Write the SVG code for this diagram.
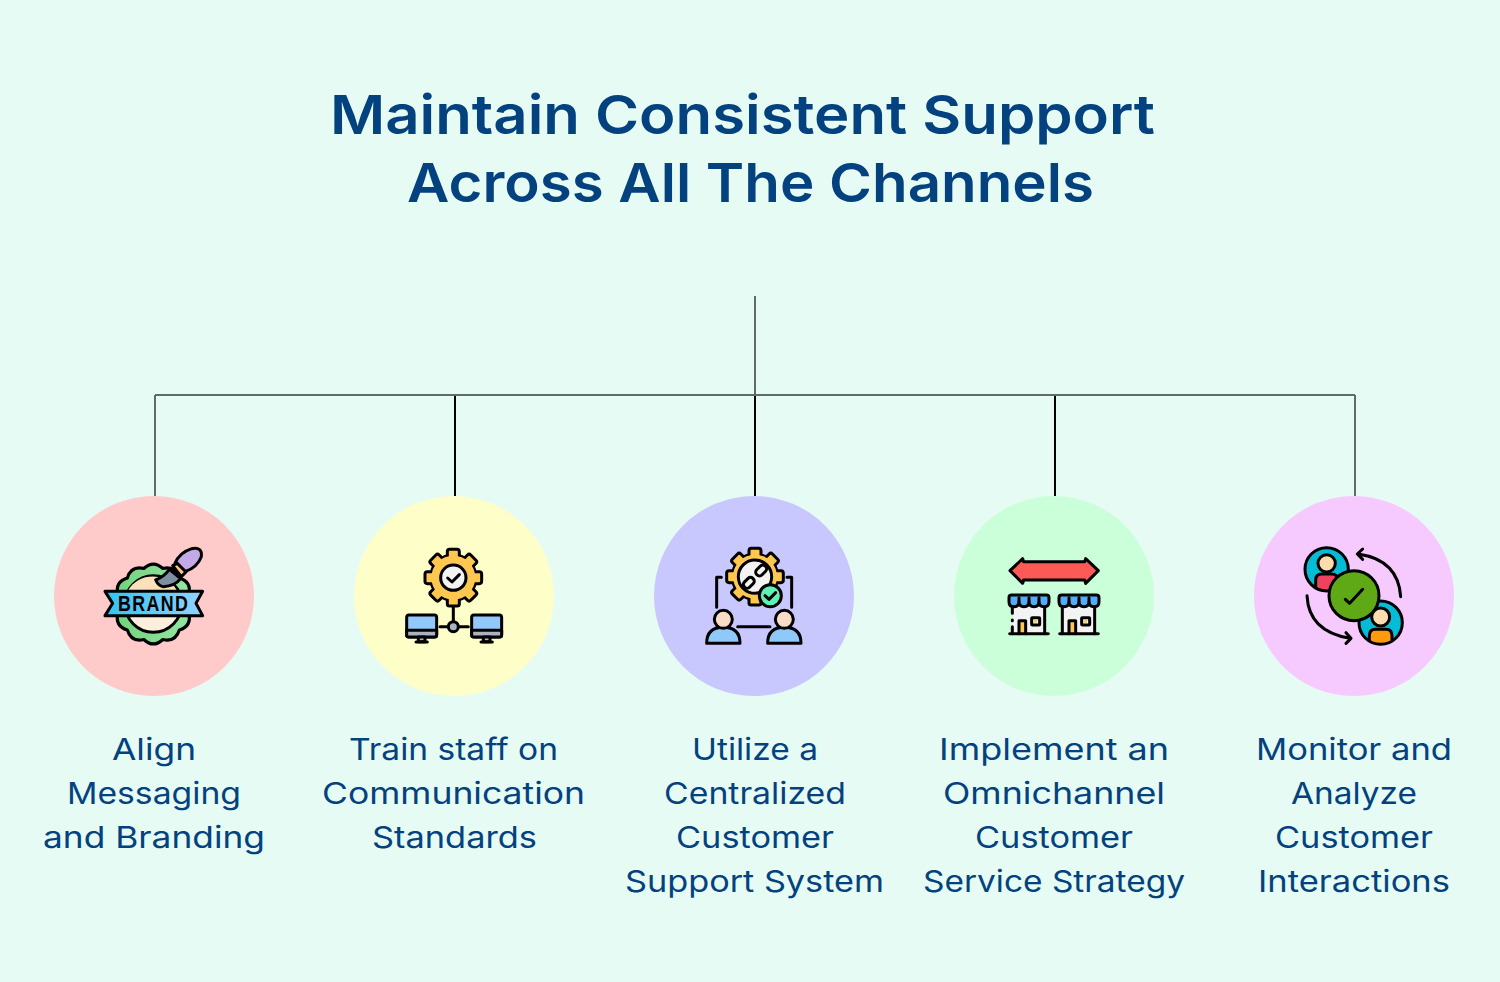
<svg xmlns="http://www.w3.org/2000/svg" xmlns:xlink="http://www.w3.org/1999/xlink" width="1500" height="982" viewBox="0 0 1500 982">
<style>
.t{font-family:"Inter","Noto Sans","Liberation Sans",sans-serif;fill:#04427f;text-anchor:middle}
.h{font-size:54px;font-weight:600}
.b{font-size:30px;font-weight:400}
.k{stroke:#000;stroke-width:9;stroke-linejoin:round;stroke-linecap:round}
.n{fill:none}
.g{stroke:#5f6b68;stroke-width:2;fill:none}
.d{stroke:#000;stroke-width:2;fill:none}
.i{font-family:"Liberation Sans",sans-serif;font-weight:700;font-size:64px;text-anchor:middle;fill:#000}
</style>
<defs>
<linearGradient id="rib" x1="0" x2="1"><stop offset="0" stop-color="#2fc4f5"/><stop offset="1" stop-color="#93d2fc"/></linearGradient>
<linearGradient id="grn" x1="0" x2="1"><stop offset="0" stop-color="#6fd37a"/><stop offset="1" stop-color="#96e6a4"/></linearGradient>
<clipPath id="c1"><circle cx="110" cy="118" r="65"/></clipPath>
<clipPath id="c2"><circle cx="272" cy="278" r="65"/></clipPath>
<rect id="tooth" x="-18" y="-85" width="36" height="32" rx="7" fill="#fdc750" class="k"/>
<g id="gear">
<circle r="68" fill="#fdc750" class="k"/>
<use xlink:href="#tooth"/><use xlink:href="#tooth" transform="rotate(45)"/><use xlink:href="#tooth" transform="rotate(90)"/><use xlink:href="#tooth" transform="rotate(135)"/><use xlink:href="#tooth" transform="rotate(180)"/><use xlink:href="#tooth" transform="rotate(225)"/><use xlink:href="#tooth" transform="rotate(270)"/><use xlink:href="#tooth" transform="rotate(315)"/>
<circle r="66" fill="#fdc750"/>
</g>
<g id="monitor">
<rect x="0" y="0" width="90" height="66" rx="7" fill="#93c9f9" class="k"/>
<path d="M0,46H90V59Q90,66 83,66H7Q0,66 0,59Z" fill="#a9b4c0" class="k"/>
<path d="M35,66H55V80H35Z" fill="#a9b4c0" class="k"/>
<path d="M28,81H62" class="k n"/>
</g>
<g id="person">
<path d="M-50,50Q-50,2 0,2Q50,2 50,50Z" fill="#8ec9f9" class="k"/>
<circle cy="-22" r="27" fill="#f9dcc8" class="k"/>
</g>
<g id="store">
<path d="M10,35H107V116H10Z" fill="#f3f3f3"/>
<path d="M107,35V116" class="k n"/>
<path d="M0,8Q0,0 8,0H112Q120,0 120,8V20Q120,35 105,35Q90,35 90,22Q90,35 75,35Q60,35 60,22Q60,35 45,35Q30,35 30,22Q30,35 15,35Q0,35 0,20Z" fill="#52acf9" class="k"/>
<path d="M30,8V22M60,8V22M90,8V22" class="k n"/>
<path d="M30,116V77H50V116" fill="#fdc750" class="k"/>
<rect x="68" y="68" width="24" height="22" rx="2" fill="#f3f3f3" class="k"/>
<rect x="76" y="75" width="8" height="8" fill="#fdc750"/>
<path d="M2,116H118" class="k n"/>
</g>
</defs>

<rect width="1500" height="982" fill="#e6fbf3"/>
<g id="title">
<text class="t h" x="742.500" y="134" textLength="825" lengthAdjust="spacingAndGlyphs">Maintain Consistent Support</text>
<text class="t h" x="750.500" y="202" textLength="687" lengthAdjust="spacingAndGlyphs">Across All The Channels</text>
</g>

<g id="connectors">
<path class="d" d="M455,396V496M755,396V496M1055,396V496"/>
<path class="g" d="M755,296V395M155,395H1355M155,395V496M1355,395V496"/>
</g>

<g id="node1">
<circle cx="154" cy="596" r="100" fill="#ffcaca"/>
<g transform="translate(90 530) scale(.3333)">
<path transform="translate(190 222) scale(1.040)" d="M102.400,27.400Q110.900,64 75,75Q64,110.900 27.400,102.400Q0,128 -27.400,102.400Q-64,110.900 -75,75Q-110.900,64 -102.400,27.400Q-128,0 -102.400,-27.400Q-110.900,-64 -75,-75Q-64,-110.900 -27.400,-102.400Q0,-128 27.400,-102.400Q64,-110.900 75,-75Q110.900,-64 102.400,-27.400Q128,0 102.400,27.400Z" fill="url(#grn)" class="k"/>
<circle cx="190" cy="222" r="85" fill="#fdeedd" class="k"/>
<path d="M115,180A85,85 0 0 1 260,180Z" fill="#fbe0bb"/>
<path d="M45,184H338L318,220L338,257H45L68,220Z" fill="url(#rib)" class="k"/>
<text class="i" x="191" y="244" textLength="214" lengthAdjust="spacingAndGlyphs" letter-spacing="5">BRAND</text>
<path d="M255,100Q268,68 305,56Q338,50 334,80Q322,112 285,125Z" fill="#c3a9e8" class="k"/>
<path d="M248,107L262,100L288,126L274,140Z" fill="#fbc27e" class="k"/>
<path d="M197,150Q222,140 238,118L272,146Q255,168 220,170Q205,168 197,150Z" fill="#7f8fa3" class="k"/>
</g>
</g>

<g id="node2">
<circle cx="454" cy="596" r="100" fill="#fefec9"/>
<g transform="translate(390 530) scale(.3333)">
<path d="M190,225V275M150,290H175M205,290H235" class="k n"/>
<use xlink:href="#gear" transform="translate(190 143)"/>
<circle cx="190" cy="143" r="38" fill="#f3f3f3" class="k"/>
<path d="M173,144L186,156L208,134" class="k n"/>
<circle cx="190" cy="290" r="15" fill="#a9b4c0" class="k"/>
<use xlink:href="#monitor" transform="translate(50 255)"/>
<use xlink:href="#monitor" transform="translate(245 255)"/>
</g>
</g>

<g id="node3">
<circle cx="754" cy="596" r="100" fill="#c8c8ff"/>
<g transform="translate(690 530) scale(.3333)">
<path d="M94,142H80V232M291,142H305V232M143,290H240" class="k n"/>
<use xlink:href="#gear" transform="translate(195 140)"/>
<circle cx="195" cy="140" r="50" fill="#f3f3f3" class="k"/>
<rect x="-30" y="-11" width="36" height="22" rx="10" transform="translate(185 150) rotate(-45)" class="k n"/>
<rect x="-6" y="-11" width="36" height="22" rx="10" transform="translate(205 130) rotate(-45)" class="k n"/>
<circle cx="241" cy="197" r="33" fill="#5ef0b5" class="k"/>
<path d="M225,197L237,208L257,188" class="k n"/>
<use xlink:href="#person" transform="translate(100 290)"/>
<use xlink:href="#person" transform="translate(283 290)"/>
</g>
</g>

<g id="node4">
<circle cx="1054" cy="596" r="100" fill="#caffd9"/>
<g transform="translate(990 530) scale(.3333)">
<path d="M60,122L98,86L101,95H284L287,86L325,122L287,160L284,150H101L98,160Z" fill="#fb5a57" class="k"/>
<use xlink:href="#store" transform="translate(57 195)"/>
<path d="M67,230V250M67,270V272M67,290V311" class="k n"/>
<use xlink:href="#store" transform="translate(207 195)"/>
<path d="M217,230V311" class="k n"/>
</g>
</g>

<g id="node5">
<circle cx="1354" cy="596" r="100" fill="#f7caff"/>
<g transform="translate(1290 530) scale(.3333)">
<circle cx="110" cy="118" r="65" fill="#05bcd6"/>
<path clip-path="url(#c1)" d="M77,200V150Q77,132 95,132H125Q143,132 143,150V200Z" fill="#f0415f" class="k"/>
<circle cx="110" cy="118" r="65" class="k n"/>
<circle cx="110" cy="100" r="26" fill="#fbdcae" class="k"/>
<circle cx="272" cy="278" r="65" fill="#05bcd6"/>
<path clip-path="url(#c2)" d="M238,360V318Q238,298 256,298H288Q306,298 306,318V360Z" fill="#ff9a0d" class="k"/>
<circle cx="272" cy="278" r="65" class="k n"/>
<circle cx="272" cy="261" r="27" fill="#fbdcae" class="k"/>
<circle cx="192" cy="197" r="75" fill="#5fa917" class="k"/>
<path d="M166,208L179,220L218,178" class="k n"/>
<path d="M332,200Q325,90 205,72M218,57L202,72L218,88M51,197Q56,305 180,325M168,308L183,325L168,340" class="k n"/>
</g>
</g>

<g id="label1">
<text class="t b" x="154" y="760" textLength="84" lengthAdjust="spacingAndGlyphs">Align</text>
<text class="t b" x="154" y="804" textLength="174" lengthAdjust="spacingAndGlyphs">Messaging</text>
<text class="t b" x="154" y="848" textLength="222" lengthAdjust="spacingAndGlyphs">and Branding</text>
</g>
<g id="label2">
<text class="t b" x="453.500" y="760" textLength="209" lengthAdjust="spacingAndGlyphs">Train staff on</text>
<text class="t b" x="453.500" y="804" textLength="263" lengthAdjust="spacingAndGlyphs">Communication</text>
<text class="t b" x="454.500" y="848" textLength="165" lengthAdjust="spacingAndGlyphs">Standards</text>
</g>
<g id="label3">
<text class="t b" x="755" y="760" textLength="126" lengthAdjust="spacingAndGlyphs">Utilize a</text>
<text class="t b" x="755" y="804" textLength="182" lengthAdjust="spacingAndGlyphs">Centralized</text>
<text class="t b" x="755" y="848" textLength="158" lengthAdjust="spacingAndGlyphs">Customer</text>
<text class="t b" x="754.500" y="892" textLength="259" lengthAdjust="spacingAndGlyphs">Support System</text>
</g>
<g id="label4">
<text class="t b" x="1054" y="760" textLength="230" lengthAdjust="spacingAndGlyphs">Implement an</text>
<text class="t b" x="1054" y="804" textLength="222" lengthAdjust="spacingAndGlyphs">Omnichannel</text>
<text class="t b" x="1054" y="848" textLength="158" lengthAdjust="spacingAndGlyphs">Customer</text>
<text class="t b" x="1054" y="892" textLength="262" lengthAdjust="spacingAndGlyphs">Service Strategy</text>
</g>
<g id="label5">
<text class="t b" x="1354" y="760" textLength="196" lengthAdjust="spacingAndGlyphs">Monitor and</text>
<text class="t b" x="1354" y="804" textLength="126" lengthAdjust="spacingAndGlyphs">Analyze</text>
<text class="t b" x="1354" y="848" textLength="158" lengthAdjust="spacingAndGlyphs">Customer</text>
<text class="t b" x="1354" y="892" textLength="192" lengthAdjust="spacingAndGlyphs">Interactions</text>
</g>
</svg>
